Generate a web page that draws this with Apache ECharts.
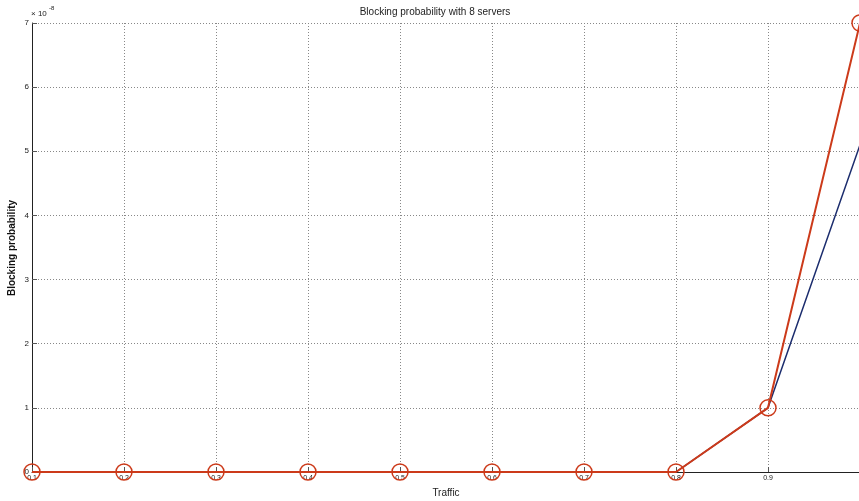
<!DOCTYPE html>
<html>
<head>
<meta charset="utf-8">
<script src="https://cdn.jsdelivr.net/npm/echarts@6/dist/echarts.min.js"></script>
<style>html,body{margin:0;padding:0;background:#fff;}#c{width:859px;height:501px;}</style>
</head>
<body>
<div id="c"></div>
<script>
var traffic = ['0.1','0.2','0.3','0.4','0.5','0.6','0.7','0.8','0.9','1.0'];
// values in units of 1e-8
var erlangB = [0, 0, 0, 0, 0, 0, 0, 0, 1.0, 5.1];
var simulated = [0, 0, 0, 0, 0, 0, 0, 0, 1.0, 7.0];
var yTicks = [0, 1, 2, 3, 4, 5, 6, 7];

var chart = echarts.init(document.getElementById('c'));
chart.setOption({
  animation: false,
  backgroundColor: '#fff',
  title: {
    text: 'Blocking probability with 8 servers',
    left: 430, top: 2, textAlign: 'center',
    textStyle: {fontFamily: 'Liberation Sans', fontSize: 10, fontWeight: 'normal', color: '#222'}
  },
  graphic: [{
    type: 'text', left: 31, top: 10,
    style: {text: '× 10', fontSize: 8, fontFamily: 'Liberation Sans', fill: '#222'}
  }, {
    type: 'text', left: 49, top: 5,
    style: {text: '-8', fontSize: 6, fontFamily: 'Liberation Sans', fill: '#222'}
  }, {
    type: 'text', x: 12, y: 248, rotation: Math.PI / 2,
    style: {text: 'Blocking probability', fontSize: 10, fontWeight: 'bold', fontFamily: 'Liberation Sans',
      fill: '#111', align: 'center', verticalAlign: 'middle'}
  }],
  grid: {left: 32, right: -1, top: 23, bottom: 29, containLabel: false, outerBoundsMode: 'none'},
  xAxis: {
    type: 'category', data: traffic, boundaryGap: false,
    name: 'Traffic', nameLocation: 'middle', nameGap: 16,
    nameTextStyle: {fontFamily: 'Liberation Sans', fontSize: 10, color: '#222'},
    axisLine: {lineStyle: {color: '#222', width: 1}},
    axisTick: {inside: true, length: 5, lineStyle: {color: '#555'}},
    axisLabel: {fontFamily: 'Liberation Sans', fontSize: 7, color: '#222', margin: 3, interval: 0,
      formatter: function (v) { return v === '1.0' ? '' : v; }},
    splitLine: {show: true, lineStyle: {type: [1, 2], color: '#888', width: 1}}
  },
  yAxis: {
    type: 'value', min: 0, max: 7, interval: 1,
    axisLine: {show: true, lineStyle: {color: '#222', width: 1}},
    axisTick: {show: true, inside: true, length: 5, lineStyle: {color: '#555'}},
    axisLabel: {fontFamily: 'Liberation Sans', fontSize: 8, color: '#222', margin: 3},
    splitLine: {show: true, lineStyle: {type: [1, 2], color: '#888', width: 1}}
  },
  series: [{
    name: 'Erlang B', type: 'line', data: erlangB,
    symbol: 'none', lineStyle: {color: '#1c2d6e', width: 1.5}, z: 2
  }, {
    name: 'Simulation', type: 'line', data: simulated,
    symbol: 'circle', symbolSize: 16,
    itemStyle: {color: 'rgba(0,0,0,0)', borderColor: '#cc3a1a', borderWidth: 1.5},
    lineStyle: {color: '#cc3a1a', width: 2}, z: 3
  }]
});
</script>
</body>
</html>
